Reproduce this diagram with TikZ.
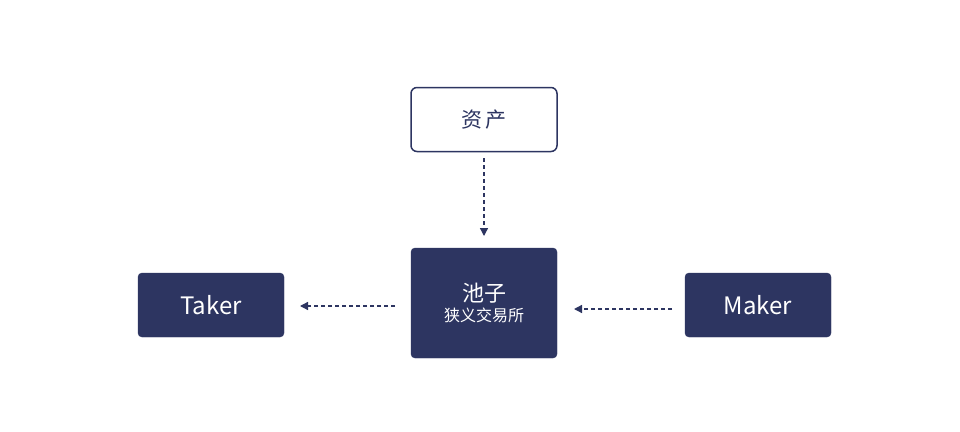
\documentclass[tikz,border=0pt]{standalone}
\usepackage{fontspec}
\setmainfont{Noto Sans CJK SC}
\usetikzlibrary{arrows.meta}
\definecolor{navy}{HTML}{2D3561}
\begin{document}
\begin{tikzpicture}[x=1pt,y=-1pt,
  dark/.style={fill=navy,draw=navy,rounded corners=4pt,text=white,minimum width=146pt},
  conn/.style={navy,line width=1.3pt,dash pattern=on 4pt off 3pt,-{Triangle[length=8pt,width=8pt]}}]
\useasboundingbox (0,0) rectangle (960,431);
\fill[white] (0,0) rectangle (960,431);
\node[draw=navy,line width=1.5pt,fill=white,rounded corners=6pt,minimum width=146pt,minimum height=64pt,text=navy,font=\fontsize{21}{24}\selectfont] (asset) at (484,119.5) {资\,产};
\node[dark,minimum height=110pt,align=center] (pool) at (484,303) {{\fontsize{22}{26}\selectfont 池子}\\[4pt]{\fontsize{16}{20}\selectfont 狭义交易所}};
\node[dark,minimum height=64pt,font=\fontsize{24}{28}\selectfont] (taker) at (211,305) {Taker};
\node[dark,minimum height=64pt,font=\fontsize{24}{28}\selectfont] (maker) at (758,305) {Maker};
\coordinate (a1) at (484,158);
\coordinate (a2) at (484,236);
\draw[conn] (a1) -- (a2);
\coordinate (t1) at (395,306);
\coordinate (t2) at (300,306);
\draw[conn] (t1) -- (t2);
\coordinate (m1) at (672,309);
\coordinate (m2) at (574,309);
\draw[conn] (m1) -- (m2);
\end{tikzpicture}
\end{document}
